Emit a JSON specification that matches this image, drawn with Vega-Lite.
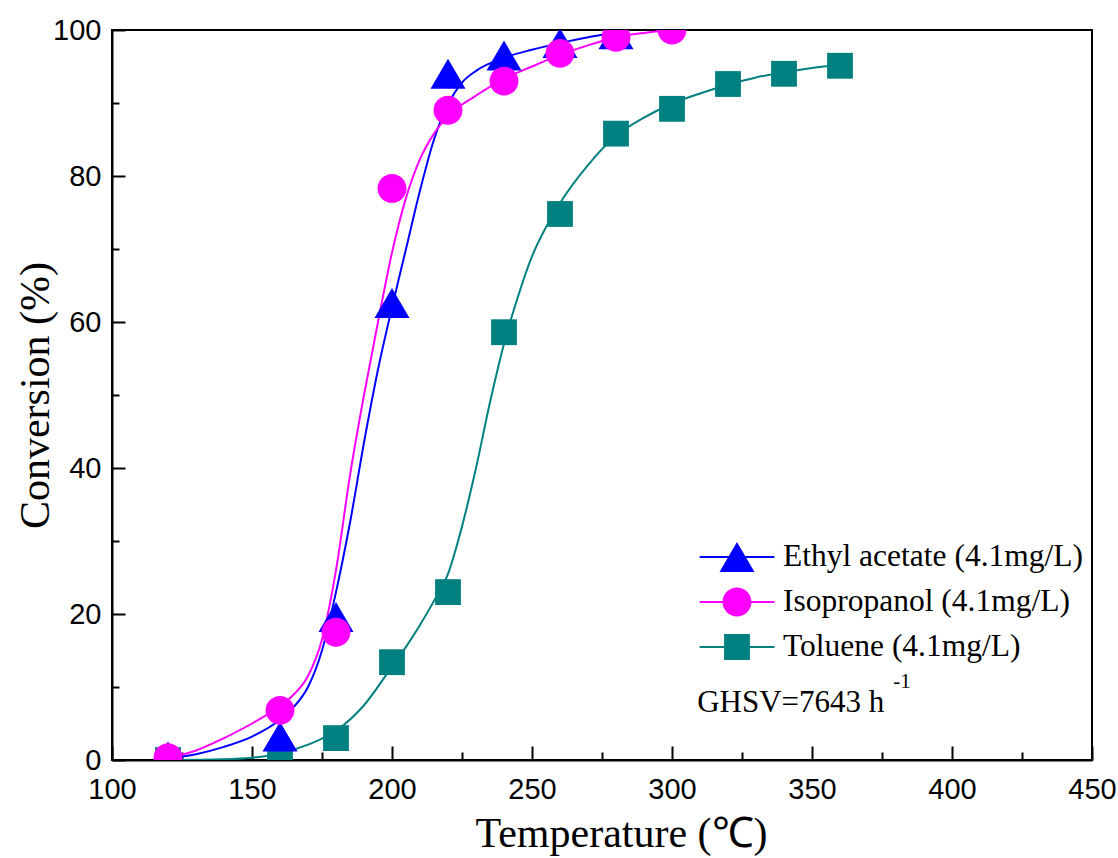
{
  "$schema": "https://vega.github.io/schema/vega-lite/v6.json",
  "width": 980,
  "height": 730,
  "autosize": "none",
  "padding": {"left": 112, "top": 30, "right": 26, "bottom": 98},
  "background": "white",
  "config": {
    "view": {"stroke": "black", "strokeWidth": 2},
    "axis": {
      "grid": false,
      "domainColor": "black",
      "domainWidth": 2,
      "tickColor": "black",
      "tickWidth": 2,
      "labelColor": "black",
      "labelFont": "Liberation Sans Narrow, Liberation Sans, Arial",
      "labelFontSize": 29,
      "labelFlush": false,
      "labelOverlap": false,
      "titleColor": "black",
      "titleFont": "Liberation Serif",
      "titleFontWeight": "normal",
      "titleFontSize": 42
    }
  },
  "datasets": {
    "measured": [
      {"compound": "Toluene (4.1mg/L)", "T": 120, "conv": 0},
      {"compound": "Toluene (4.1mg/L)", "T": 160, "conv": 0.4},
      {"compound": "Toluene (4.1mg/L)", "T": 180, "conv": 3},
      {"compound": "Toluene (4.1mg/L)", "T": 200, "conv": 13.4},
      {"compound": "Toluene (4.1mg/L)", "T": 220, "conv": 23},
      {"compound": "Toluene (4.1mg/L)", "T": 240, "conv": 58.6},
      {"compound": "Toluene (4.1mg/L)", "T": 260, "conv": 74.8},
      {"compound": "Toluene (4.1mg/L)", "T": 280, "conv": 85.8},
      {"compound": "Toluene (4.1mg/L)", "T": 300, "conv": 89.2},
      {"compound": "Toluene (4.1mg/L)", "T": 320, "conv": 92.6},
      {"compound": "Toluene (4.1mg/L)", "T": 340, "conv": 94},
      {"compound": "Toluene (4.1mg/L)", "T": 360, "conv": 95.1},
      {"compound": "Ethyl acetate (4.1mg/L)", "T": 120, "conv": 0.5},
      {"compound": "Ethyl acetate (4.1mg/L)", "T": 160, "conv": 3.2},
      {"compound": "Ethyl acetate (4.1mg/L)", "T": 180, "conv": 19.6},
      {"compound": "Ethyl acetate (4.1mg/L)", "T": 200, "conv": 62.6},
      {"compound": "Ethyl acetate (4.1mg/L)", "T": 220, "conv": 94},
      {"compound": "Ethyl acetate (4.1mg/L)", "T": 240, "conv": 96.5},
      {"compound": "Ethyl acetate (4.1mg/L)", "T": 260, "conv": 98.2},
      {"compound": "Ethyl acetate (4.1mg/L)", "T": 280, "conv": 99.4},
      {"compound": "Isopropanol (4.1mg/L)", "T": 120, "conv": 0.3},
      {"compound": "Isopropanol (4.1mg/L)", "T": 160, "conv": 6.8},
      {"compound": "Isopropanol (4.1mg/L)", "T": 180, "conv": 17.5},
      {"compound": "Isopropanol (4.1mg/L)", "T": 200, "conv": 78.3},
      {"compound": "Isopropanol (4.1mg/L)", "T": 220, "conv": 89},
      {"compound": "Isopropanol (4.1mg/L)", "T": 240, "conv": 93},
      {"compound": "Isopropanol (4.1mg/L)", "T": 260, "conv": 96.8},
      {"compound": "Isopropanol (4.1mg/L)", "T": 280, "conv": 99},
      {"compound": "Isopropanol (4.1mg/L)", "T": 300, "conv": 100}
    ],
    "fit": [
      {"compound": "Toluene (4.1mg/L)", "T": 120, "conv": 0},
      {"compound": "Toluene (4.1mg/L)", "T": 140, "conv": 0.1},
      {"compound": "Toluene (4.1mg/L)", "T": 150, "conv": 0.3},
      {"compound": "Toluene (4.1mg/L)", "T": 160, "conv": 0.9},
      {"compound": "Toluene (4.1mg/L)", "T": 170, "conv": 2.1},
      {"compound": "Toluene (4.1mg/L)", "T": 180, "conv": 4},
      {"compound": "Toluene (4.1mg/L)", "T": 190, "conv": 7.5},
      {"compound": "Toluene (4.1mg/L)", "T": 200, "conv": 12.8},
      {"compound": "Toluene (4.1mg/L)", "T": 205, "conv": 15.5},
      {"compound": "Toluene (4.1mg/L)", "T": 210, "conv": 18.5},
      {"compound": "Toluene (4.1mg/L)", "T": 215, "conv": 21.8},
      {"compound": "Toluene (4.1mg/L)", "T": 220, "conv": 25.5},
      {"compound": "Toluene (4.1mg/L)", "T": 225, "conv": 32},
      {"compound": "Toluene (4.1mg/L)", "T": 230, "conv": 40},
      {"compound": "Toluene (4.1mg/L)", "T": 235, "conv": 49},
      {"compound": "Toluene (4.1mg/L)", "T": 240, "conv": 57},
      {"compound": "Toluene (4.1mg/L)", "T": 245, "conv": 63.5},
      {"compound": "Toluene (4.1mg/L)", "T": 250, "conv": 69},
      {"compound": "Toluene (4.1mg/L)", "T": 255, "conv": 73},
      {"compound": "Toluene (4.1mg/L)", "T": 260, "conv": 76.3},
      {"compound": "Toluene (4.1mg/L)", "T": 270, "conv": 81.5},
      {"compound": "Toluene (4.1mg/L)", "T": 280, "conv": 85.5},
      {"compound": "Toluene (4.1mg/L)", "T": 290, "conv": 88},
      {"compound": "Toluene (4.1mg/L)", "T": 300, "conv": 89.9},
      {"compound": "Toluene (4.1mg/L)", "T": 310, "conv": 91.3},
      {"compound": "Toluene (4.1mg/L)", "T": 320, "conv": 92.5},
      {"compound": "Toluene (4.1mg/L)", "T": 330, "conv": 93.5},
      {"compound": "Toluene (4.1mg/L)", "T": 340, "conv": 94.2},
      {"compound": "Toluene (4.1mg/L)", "T": 350, "conv": 94.8},
      {"compound": "Toluene (4.1mg/L)", "T": 360, "conv": 95.2},
      {"compound": "Ethyl acetate (4.1mg/L)", "T": 120, "conv": 0.2},
      {"compound": "Ethyl acetate (4.1mg/L)", "T": 130, "conv": 0.8},
      {"compound": "Ethyl acetate (4.1mg/L)", "T": 140, "conv": 1.8},
      {"compound": "Ethyl acetate (4.1mg/L)", "T": 150, "conv": 3.2},
      {"compound": "Ethyl acetate (4.1mg/L)", "T": 160, "conv": 5.5},
      {"compound": "Ethyl acetate (4.1mg/L)", "T": 165, "conv": 7.3},
      {"compound": "Ethyl acetate (4.1mg/L)", "T": 170, "conv": 10},
      {"compound": "Ethyl acetate (4.1mg/L)", "T": 175, "conv": 15},
      {"compound": "Ethyl acetate (4.1mg/L)", "T": 180, "conv": 23},
      {"compound": "Ethyl acetate (4.1mg/L)", "T": 185, "conv": 32.5},
      {"compound": "Ethyl acetate (4.1mg/L)", "T": 190, "conv": 43.5},
      {"compound": "Ethyl acetate (4.1mg/L)", "T": 195, "conv": 53.5},
      {"compound": "Ethyl acetate (4.1mg/L)", "T": 200, "conv": 62},
      {"compound": "Ethyl acetate (4.1mg/L)", "T": 205, "conv": 70},
      {"compound": "Ethyl acetate (4.1mg/L)", "T": 210, "conv": 78},
      {"compound": "Ethyl acetate (4.1mg/L)", "T": 215, "conv": 85},
      {"compound": "Ethyl acetate (4.1mg/L)", "T": 220, "conv": 89.8},
      {"compound": "Ethyl acetate (4.1mg/L)", "T": 225, "conv": 92.8},
      {"compound": "Ethyl acetate (4.1mg/L)", "T": 230, "conv": 94.4},
      {"compound": "Ethyl acetate (4.1mg/L)", "T": 240, "conv": 96.2},
      {"compound": "Ethyl acetate (4.1mg/L)", "T": 250, "conv": 97.3},
      {"compound": "Ethyl acetate (4.1mg/L)", "T": 260, "conv": 98.2},
      {"compound": "Ethyl acetate (4.1mg/L)", "T": 270, "conv": 99},
      {"compound": "Ethyl acetate (4.1mg/L)", "T": 280, "conv": 99.7},
      {"compound": "Isopropanol (4.1mg/L)", "T": 120, "conv": 0.3},
      {"compound": "Isopropanol (4.1mg/L)", "T": 130, "conv": 1.3},
      {"compound": "Isopropanol (4.1mg/L)", "T": 140, "conv": 3},
      {"compound": "Isopropanol (4.1mg/L)", "T": 150, "conv": 5},
      {"compound": "Isopropanol (4.1mg/L)", "T": 160, "conv": 7.4},
      {"compound": "Isopropanol (4.1mg/L)", "T": 165, "conv": 9},
      {"compound": "Isopropanol (4.1mg/L)", "T": 170, "conv": 11.5},
      {"compound": "Isopropanol (4.1mg/L)", "T": 175, "conv": 16.5},
      {"compound": "Isopropanol (4.1mg/L)", "T": 180, "conv": 26},
      {"compound": "Isopropanol (4.1mg/L)", "T": 185, "conv": 39},
      {"compound": "Isopropanol (4.1mg/L)", "T": 190, "conv": 50},
      {"compound": "Isopropanol (4.1mg/L)", "T": 195, "conv": 60},
      {"compound": "Isopropanol (4.1mg/L)", "T": 200, "conv": 69.5},
      {"compound": "Isopropanol (4.1mg/L)", "T": 205, "conv": 77},
      {"compound": "Isopropanol (4.1mg/L)", "T": 210, "conv": 82.3},
      {"compound": "Isopropanol (4.1mg/L)", "T": 215, "conv": 85.8},
      {"compound": "Isopropanol (4.1mg/L)", "T": 220, "conv": 88.2},
      {"compound": "Isopropanol (4.1mg/L)", "T": 230, "conv": 91},
      {"compound": "Isopropanol (4.1mg/L)", "T": 240, "conv": 93.3},
      {"compound": "Isopropanol (4.1mg/L)", "T": 250, "conv": 95},
      {"compound": "Isopropanol (4.1mg/L)", "T": 260, "conv": 96.6},
      {"compound": "Isopropanol (4.1mg/L)", "T": 270, "conv": 97.9},
      {"compound": "Isopropanol (4.1mg/L)", "T": 280, "conv": 99},
      {"compound": "Isopropanol (4.1mg/L)", "T": 290, "conv": 99.6},
      {"compound": "Isopropanol (4.1mg/L)", "T": 300, "conv": 100}
    ]
  },
  "layer": [
    {
      "data": {"name": "fit"},
      "mark": {"type": "line", "interpolate": "monotone", "strokeWidth": 2, "clip": true},
      "encoding": {
        "x": {
          "field": "T",
          "type": "quantitative",
          "scale": {"domain": [100, 450], "nice": false, "zero": false},
          "axis": {
            "title": "Temperature (℃)",
            "titleX": 509,
            "values": [100, 125, 150, 175, 200, 225, 250, 275, 300, 325, 350, 375, 400, 425, 450],
            "labelExpr": "datum.value % 50 === 0 ? datum.label : ''",
            "tickSize": {"condition": {"test": "datum.value % 50 === 0", "value": -14}, "value": -8},
            "labelPadding": 29,
            "titlePadding": 3
          }
        },
        "y": {
          "field": "conv",
          "type": "quantitative",
          "scale": {"domain": [0, 100], "nice": false},
          "axis": {
            "title": "Conversion (%)",
            "titleFontSize": 42,
            "values": [0, 10, 20, 30, 40, 50, 60, 70, 80, 90, 100],
            "labelExpr": "datum.value % 20 === 0 ? datum.label : ''",
            "tickSize": {"condition": {"test": "datum.value % 20 === 0", "value": -13}, "value": -7},
            "labelPadding": 24,
            "titlePadding": -5
          }
        },
        "color": {
          "field": "compound",
          "type": "nominal",
          "scale": {"domain": ["Ethyl acetate (4.1mg/L)", "Isopropanol (4.1mg/L)", "Toluene (4.1mg/L)"], "range": ["#0000FF", "#FF00FF", "#008080"]},
          "legend": null
        }
      }
    },
    {
      "data": {"name": "measured"},
      "mark": {"type": "point", "filled": true, "size": 1156, "opacity": 1, "strokeWidth": 0, "clip": true},
      "encoding": {
        "x": {"field": "T", "type": "quantitative"},
        "y": {"field": "conv", "type": "quantitative"},
        "color": {
          "field": "compound",
          "type": "nominal",
          "scale": {"domain": ["Ethyl acetate (4.1mg/L)", "Isopropanol (4.1mg/L)", "Toluene (4.1mg/L)"], "range": ["#0000FF", "#FF00FF", "#008080"]},
          "legend": null
        },
        "shape": {
          "field": "compound",
          "type": "nominal",
          "scale": {
            "domain": ["Ethyl acetate (4.1mg/L)", "Isopropanol (4.1mg/L)", "Toluene (4.1mg/L)"],
            "range": [
              "M0,-0.88L1.03,0.88L-1.03,0.88Z",
              "M-0.85,0A0.85,0.85 0 1,1 0.85,0A0.85,0.85 0 1,1 -0.85,0Z",
              "M-0.76,-0.76H0.76V0.76H-0.76Z"
            ]
          },
          "legend": null
        }
      }
    },
    {
      "data": {"values": [{"note": "GHSV=7643 h"}]},
      "mark": {"type": "text", "font": "Liberation Serif", "fontSize": 31, "align": "left", "baseline": "alphabetic", "color": "black"},
      "encoding": {
        "x": {"datum": 309, "type": "quantitative"},
        "y": {"datum": 6.6, "type": "quantitative"},
        "text": {"field": "note", "type": "nominal"}
      }
    },
    {
      "data": {"values": [{"note": "-1"}]},
      "mark": {"type": "text", "font": "Liberation Serif", "fontSize": 21, "align": "left", "baseline": "alphabetic", "color": "black"},
      "encoding": {
        "x": {"datum": 379, "type": "quantitative"},
        "y": {"datum": 9.8, "type": "quantitative"},
        "text": {"field": "note", "type": "nominal"}
      }
    },
    {
      "data": {"values": []},
      "mark": {"type": "point", "filled": true, "size": 1156, "strokeWidth": 0},
      "encoding": {
        "x": {"field": "T", "type": "quantitative"},
        "y": {"field": "conv", "type": "quantitative"},
        "fill": {
          "field": "compound",
          "type": "nominal",
          "scale": {"domain": ["Ethyl acetate (4.1mg/L)", "Isopropanol (4.1mg/L)", "Toluene (4.1mg/L)"], "range": ["#0000FF", "#FF00FF", "#008080"]},
          "legend": {
            "orient": "none", "legendX": 608, "legendY": 510, "title": null, "padding": 0,
            "labelFont": "Liberation Serif", "labelFontSize": 31.5, "labelColor": "black", "labelLimit": 600,
            "labelOffset": 29, "rowPadding": 12, "symbolSize": 1156, "symbolStrokeWidth": 0, "symbolOpacity": 1
          }
        },
        "shape": {
          "field": "compound",
          "type": "nominal",
          "scale": {
            "domain": ["Ethyl acetate (4.1mg/L)", "Isopropanol (4.1mg/L)", "Toluene (4.1mg/L)"],
            "range": [
              "M-2.2,-0.06H2.2V0.06H-2.2ZM0,-0.88L1.03,0.88L-1.03,0.88Z",
              "M-2.2,-0.06H2.2V0.06H-2.2ZM-0.85,0A0.85,0.85 0 1,1 0.85,0A0.85,0.85 0 1,1 -0.85,0Z",
              "M-2.2,-0.06H2.2V0.06H-2.2ZM-0.76,-0.76H0.76V0.76H-0.76Z"
            ]
          },
          "legend": {
            "orient": "none", "legendX": 608, "legendY": 510, "title": null, "padding": 0,
            "labelFont": "Liberation Serif", "labelFontSize": 31.5, "labelColor": "black", "labelLimit": 600,
            "labelOffset": 29, "rowPadding": 12, "symbolSize": 1156, "symbolStrokeWidth": 0, "symbolOpacity": 1
          }
        }
      }
    }
  ],
  "resolve": {"scale": {"shape": "independent", "fill": "independent"}}
}
